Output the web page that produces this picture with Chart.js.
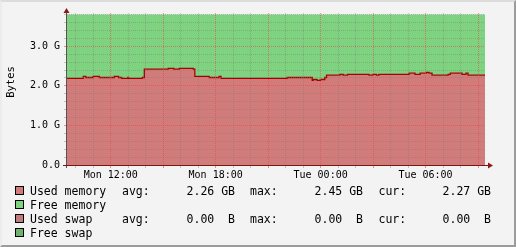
<!DOCTYPE html>
<html>
<head>
<meta charset="utf-8">
<script src="https://cdn.jsdelivr.net/npm/chart.js@4.4.0/dist/chart.umd.min.js"></script>
<style>
  html, body { margin: 0; padding: 0; background: #f3f3f3; }
  #wrap { position: relative; width: 516px; height: 247px; background: #f3f3f3; overflow: hidden; }
  #chart { position: absolute; left: 0; top: 0; }
  #frame { position: absolute; left: 0; top: 0; width: 516px; height: 247px; box-sizing: border-box;
           border-top: 2px solid #dcdcdc; border-left: 2px solid #ececec;
           border-right: 2px solid #9c9c9c; border-bottom: 2px solid #9c9c9c; pointer-events: none; }
  #legend { position: absolute; left: 0; top: 0; font: 11.5px "DejaVu Sans Mono", monospace; color: #000; }
  .sw { position: absolute; width: 7px; height: 7px; border: 1px solid #000; }
  .t { position: absolute; white-space: pre; line-height: 14px; }
</style>
</head>
<body>
<div id="wrap">
  <canvas id="chart" width="516" height="247"></canvas>
  <div id="legend"></div>
  <div id="frame"></div>
</div>
<script>
// time in hours since Mon 00:00, value holds from this hour until the next one
const stepHours = [9.5, 10.43, 10.57, 11.0, 11.35, 12.2, 12.45, 12.63, 12.97, 13.03, 13.8, 13.92, 15.29, 15.61, 15.92, 16.72, 16.81, 17.63, 18.2, 18.31,
                   22.09, 23.52, 23.58, 23.8, 23.98, 24.24, 24.34, 25.1, 25.29, 25.54, 26.77, 27.0, 27.19, 27.33, 29.06, 29.4, 29.69, 30.06, 30.2, 30.37,
                   31.29, 31.42, 32.09, 32.31, 32.43, 33.4];
// used memory in G
const usedMem = [2.19, 2.24, 2.21, 2.24, 2.21, 2.24, 2.21, 2.19, 2.21, 2.19, 2.21, 2.42, 2.44, 2.42, 2.44, 2.42, 2.24, 2.21, 2.24, 2.19,
                 2.21, 2.14, 2.16, 2.14, 2.16, 2.21, 2.27, 2.29, 2.27, 2.29, 2.27, 2.29, 2.27, 2.29, 2.32, 2.29, 2.32, 2.34, 2.32, 2.27,
                 2.29, 2.32, 2.29, 2.32, 2.27, 2.27];
const totalMem = 3.80;
const freeMem = usedMem.map(u => +(totalMem - u).toFixed(3));

const xTickHours = [12, 18, 24, 30];
const xTickLabels = ['Mon 12:00', 'Mon 18:00', 'Tue 00:00', 'Tue 06:00'];
const yTickValues = [0, 1, 2, 3];
const yTickLabels = ['0.0', '1.0 G', '2.0 G', '3.0 G'];

const legendNames = ['Used memory', 'Free memory', 'Used swap', 'Free swap'];
const legendColors = ['#d27b7b', '#7fd27f', '#c07c7c', '#6db36d'];
const legendAvg = ['2.26 GB', null, '0.00  B', null];
const legendMax = ['2.45 GB', null, '0.00  B', null];
const legendCur = ['2.27 GB', null, '0.00  B', null];

const xMin = 9.5, xMax = 33.4;
const yMin = 0, yMax = 3.84;

const MAJOR = 'rgba(235, 70, 70, 0.6)';
const MINOR = 'rgba(120, 120, 120, 0.4)';

const axisArrows = {
    id: 'axisArrows',
    afterDraw(chart) {
        const { ctx, chartArea: a } = chart;
        ctx.save();
        ctx.lineWidth = 1;
        // y axis
        ctx.strokeStyle = '#555555';
        ctx.beginPath();
        ctx.moveTo(a.left - 0.5, a.bottom + 3);
        ctx.lineTo(a.left - 0.5, a.top - 1);
        ctx.stroke();
        // x axis
        ctx.strokeStyle = '#7a1515';
        ctx.beginPath();
        ctx.moveTo(a.left - 4, a.bottom + 0.5);
        ctx.lineTo(a.right + 4, a.bottom + 0.5);
        ctx.stroke();
        ctx.fillStyle = '#8b1a1a';
        ctx.beginPath();
        ctx.moveTo(a.left - 0.5, a.top - 5);
        ctx.lineTo(a.left - 3.5, a.top);
        ctx.lineTo(a.left + 2.5, a.top);
        ctx.closePath();
        ctx.fill();
        ctx.beginPath();
        ctx.moveTo(a.right + 8, a.bottom + 0.5);
        ctx.lineTo(a.right + 3, a.bottom - 2.5);
        ctx.lineTo(a.right + 3, a.bottom + 3.5);
        ctx.closePath();
        ctx.fill();
        // vertical unit label
        ctx.translate(11, 82);
        ctx.rotate(-Math.PI / 2);
        ctx.font = '10.5px "DejaVu Sans Mono"';
        ctx.fillStyle = '#000';
        ctx.textAlign = 'center';
        ctx.textBaseline = 'middle';
        ctx.fillText('Bytes', 0, 0);
        ctx.restore();
    }
};

const isInt = v => Math.abs(v - Math.round(v)) < 1e-6;

const ctx = document.getElementById('chart').getContext('2d');
new Chart(ctx, {
    type: 'line',
    data: {
        datasets: [
            {
                label: 'Used memory',
                data: stepHours.map((h, i) => ({ x: h, y: usedMem[i] })),
                stepped: true,
                borderColor: '#a80000',
                borderWidth: 1.3,
                backgroundColor: '#d27b7b',
                fill: 'origin',
                pointRadius: 0
            },
            {
                label: 'Free memory',
                data: stepHours.map((h, i) => ({ x: h, y: freeMem[i] })),
                stepped: true,
                borderWidth: 0,
                borderColor: 'rgba(0,0,0,0)',
                backgroundColor: '#7fd27f',
                fill: '-1',
                pointRadius: 0
            }
        ]
    },
    options: {
        responsive: false,
        animation: false,
        layout: { padding: { left: 0, right: 31, top: 13, bottom: 0 } },
        plugins: { legend: { display: false }, tooltip: { enabled: false } },
        scales: {
            x: {
                type: 'linear',
                min: xMin,
                max: xMax,
                z: 1,
                afterFit: s => { s.height = 82; },
                afterBuildTicks: s => {
                    const t = [];
                    for (let h = Math.ceil(xMin); h <= xMax; h++) t.push({ value: h });
                    s.ticks = t;
                },
                ticks: {
                    autoSkip: false,
                    maxRotation: 0,
                    padding: 1,
                    color: '#000',
                    font: { family: 'DejaVu Sans Mono', size: 10 },
                    callback: v => {
                        const i = xTickHours.indexOf(v);
                        return i >= 0 ? xTickLabels[i] : '';
                    }
                },
                grid: {
                    z: 1,
                    color: c => (c.tick && c.tick.value % 3 === 0) ? MAJOR : MINOR,
                    tickColor: c => (c.tick && c.tick.value % 3 === 0) ? MAJOR : MINOR,
                    tickLength: 3,
                    borderDash: [1, 1]
                },
                border: { display: false, dash: [1, 1] }
            },
            y: {
                stacked: true,
                min: yMin,
                max: yMax,
                z: 1,
                afterFit: s => { s.width = 67; },
                afterBuildTicks: s => {
                    const t = [];
                    for (let i = 0; i <= 19; i++) t.push({ value: i / 5 });
                    s.ticks = t;
                },
                ticks: {
                    autoSkip: false,
                    padding: 4,
                    color: '#000',
                    font: { family: 'DejaVu Sans Mono', size: 10 },
                    callback: v => {
                        if (!isInt(v)) return '';
                        const i = yTickValues.indexOf(Math.round(v));
                        return i >= 0 ? yTickLabels[i] : '';
                    }
                },
                grid: {
                    z: 1,
                    color: c => (c.tick && isInt(c.tick.value)) ? MAJOR : MINOR,
                    tickColor: c => (c.tick && isInt(c.tick.value)) ? MAJOR : MINOR,
                    tickLength: 3,
                    borderDash: [1, 1]
                },
                border: { display: false, dash: [1, 1] }
            }
        }
    },
    plugins: [axisArrows]
});

// legend rows drawn as text
const legend = document.getElementById('legend');
function addText(txt, left, top, right) {
    const d = document.createElement('div');
    d.className = 't';
    d.textContent = txt;
    d.style.top = top + 'px';
    if (right != null) { d.style.right = (-right) + 'px'; d.style.textAlign = 'right'; }
    else d.style.left = left + 'px';
    legend.appendChild(d);
}
legendNames.forEach((name, i) => {
    const top = 184 + i * 14;
    const sw = document.createElement('div');
    sw.className = 'sw';
    sw.style.left = '15px';
    sw.style.top = (top + 2) + 'px';
    sw.style.background = legendColors[i];
    legend.appendChild(sw);
    addText(name, 30, top);
    if (legendAvg[i] != null) {
        addText('avg:', 122, top);
        addText(legendAvg[i], null, top, 235);
        addText('max:', 250, top);
        addText(legendMax[i], null, top, 363);
        addText('cur:', 378.5, top);
        addText(legendCur[i], null, top, 491);
    }
});
</script>
</body>
</html>
